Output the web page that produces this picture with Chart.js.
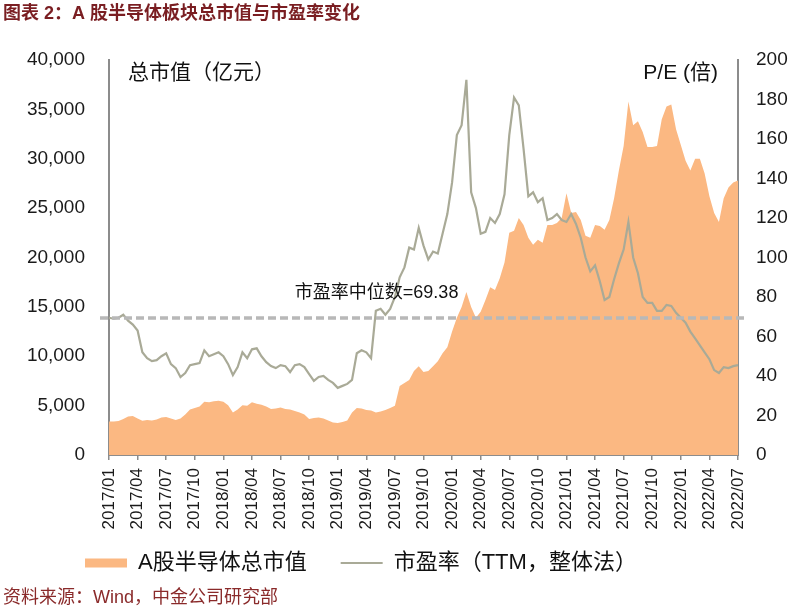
<!DOCTYPE html>
<html>
<head>
<meta charset="utf-8">
<script src="https://cdn.jsdelivr.net/npm/chart.js@4.4.0/dist/chart.umd.min.js"></script>
<style>
  html, body { margin: 0; padding: 0; background: #fff; }
  #wrap { width: 800px; height: 610px; }
</style>
</head>
<body>
<div id="wrap"><canvas id="chart" width="800" height="610"></canvas></div>
<script>
// 3-monthly axis labels
const tickLabels = ['2017/01','2017/04','2017/07','2017/10','2018/01','2018/04','2018/07','2018/10',
  '2019/01','2019/04','2019/07','2019/10','2020/01','2020/04','2020/07','2020/10',
  '2021/01','2021/04','2021/07','2021/10','2022/01','2022/04','2022/07'];

// A股半导体总市值 (亿元), twice a month from 2017/01 to 2022/07
const marketCap = [3400,3400,3450,3650,3900,3950,3700,3480,3550,3500,
  3600,3800,3850,3700,3550,3700,4100,4600,4750,4900,
  5400,5350,5450,5500,5400,5050,4300,4600,5050,5000,
  5350,5200,5100,4900,4650,4700,4800,4650,4600,4450,
  4300,4100,3650,3750,3800,3700,3500,3300,3250,3350,
  3500,4300,4750,4700,4550,4500,4300,4400,4550,4750,
  5000,7000,7300,7600,8500,9000,8400,8500,9000,9500,
  10300,10900,12500,13900,15000,16500,15000,13900,14500,15700,
  17000,16700,17900,19500,22500,22700,24000,23300,22000,21300,
  21800,21500,23300,23300,23500,24000,26500,24500,24600,23800,
  22200,22000,23300,23200,22800,23800,26000,28800,31300,35800,
  33400,33800,32700,31200,31200,31300,34000,35300,35500,33000,
  31400,29800,28800,30000,30000,28500,26200,24500,23600,26000,
  27100,27600,27800];

// 市盈率 (TTM, 整体法)
const peRatio = [69.5,69,69.5,71,68,66,63,52,49,47.5,
  48,50,51.5,46,44,39.5,41.5,45.5,46,46.5,
  53,50,51,52,50,46,40.5,44.5,52,49,
  53.5,54,50,47,45,44,45.5,45,42,45.5,
  46,44.5,41,37.5,39.5,40,38,36.5,34,35,
  36,38,51.5,53,52,49,73,74,71,74,
  80,90,95,105,104,115,106,99,103,102,
  112,122,138,162,167,190,133,125,112,113,
  120,117.5,122,132,162,181,177,155,131,133,
  128,130,119,120,122,119,118,122,117,110,
  100,93,96,88,78.5,80,89,97,104,118,
  100,92,80,77,77,73,73,76,75.5,72,
  69.5,67,62.5,59,55.5,52,48.5,43,41.5,44.5,
  44,45,45.5];

const peMedian = 69.38;

// half-month category labels
const dates = [];
for (let y = 2017; y <= 2022; y++) {
  for (let m = 1; m <= 12; m++) {
    const mm = String(m).padStart(2, '0');
    dates.push(y + '/' + mm + '/01');
    if (y === 2022 && m === 7) break;
    dates.push(y + '/' + mm + '/16');
  }
}

const FONT = "'Liberation Sans', Arial, 'Noto Sans CJK SC', sans-serif";
const CJK = "'Liberation Sans', 'Noto Sans CJK SC', sans-serif";
const axisGray = '#8c8c8c';
const legendPad = 34;

const overlay = {
  id: 'overlay',
  afterLayout(chart) {
    // legend sits under the axis labels, starting near the left axis
    const lg = chart.legend;
    const w = lg.right - lg.left;
    const h = lg.bottom - lg.top;
    lg.left = 85 - legendPad;
    lg.right = lg.left + w;
    lg.top = 552 - legendPad;
    lg.bottom = lg.top + h;
  },
  afterDatasetsDraw(chart) {
    const {ctx, chartArea, scales} = chart;
    const yMed = scales.y1.getPixelForValue(peMedian);
    ctx.save();
    ctx.strokeStyle = '#b8b8b8';
    ctx.lineWidth = 3.5;
    ctx.setLineDash([8, 4]);
    ctx.beginPath();
    ctx.moveTo(chartArea.left - 9, yMed);
    ctx.lineTo(chartArea.right + 10, yMed);
    ctx.stroke();
    ctx.setLineDash([]);
    ctx.fillStyle = '#111';
    ctx.font = '18px ' + CJK;
    ctx.textBaseline = 'middle';
    ctx.textAlign = 'left';
    ctx.fillText('市盈率中位数=' + peMedian, scales.x.getPixelForValue(39), yMed - 25);
    ctx.restore();
  },
  afterDraw(chart) {
    const {ctx, chartArea} = chart;
    ctx.save();
    ctx.textBaseline = 'middle';
    ctx.fillStyle = '#111';
    ctx.font = '21px ' + CJK;
    ctx.textAlign = 'left';
    ctx.fillText('总市值（亿元）', chartArea.left + 19, chartArea.top + 13);
    ctx.textAlign = 'right';
    ctx.fillText('P/E (倍)', chartArea.right - 20, chartArea.top + 13);
    ctx.textAlign = 'left';
    ctx.fillStyle = '#7a1e22';
    ctx.font = 'bold 18px ' + CJK;
    ctx.fillText('图表 2：A 股半导体板块总市值与市盈率变化', 3, 14);
    ctx.fillStyle = '#8a2a2a';
    ctx.font = '18px ' + CJK;
    ctx.fillText('资料来源：Wind，中金公司研究部', 3, 598);
    ctx.restore();
  }
};

new Chart(document.getElementById('chart'), {
  type: 'line',
  data: {
    labels: dates,
    datasets: [{
      label: 'A股半导体总市值',
      data: marketCap,
      yAxisID: 'y',
      backgroundColor: '#fbb882',
      borderWidth: 0,
      fill: 'origin',
      pointRadius: 0,
      pointStyle: 'rect',
      tension: 0,
      order: 1
    }, {
      label: '市盈率（TTM，整体法）',
      data: peRatio,
      yAxisID: 'y1',
      borderColor: '#a9aa97',
      backgroundColor: '#a9aa97',
      borderWidth: 2.2,
      fill: false,
      pointRadius: 0,
      pointStyle: 'line',
      tension: 0,
      order: 0
    }]
  },
  options: {
    responsive: false,
    animation: false,
    devicePixelRatio: 1,
    layout: { padding: { top: 60, left: 10, right: 12, bottom: 9 } },
    scales: {
      x: {
        grid: { display: true, drawOnChartArea: false, drawTicks: true, tickLength: 5, color: axisGray, lineWidth: 1.5 },
        border: { display: true, color: axisGray, width: 2 },
        ticks: {
          autoSkip: false,
          minRotation: 90,
          maxRotation: 90,
          padding: 8,
          color: '#1a1a1a',
          font: { family: FONT, size: 17 },
          callback: function (value) {
            const lab = this.getLabelForValue(value);
            const ym = lab.slice(0, 7);
            return lab.endsWith('/01') && tickLabels.includes(ym) ? ym : null;
          }
        },
        afterFit: (s) => { s.height = 80; }
      },
      y: {
        position: 'left',
        min: 0,
        max: 40000,
        grid: { display: false },
        border: { display: true, color: axisGray, width: 2 },
        ticks: {
          stepSize: 5000,
          padding: 16,
          color: '#1a1a1a',
          font: { family: FONT, size: 19 },
          callback: (v) => v.toLocaleString('en-US')
        },
        afterFit: (s) => { s.width = 99; }
      },
      y1: {
        position: 'right',
        min: 0,
        max: 200,
        grid: { display: false },
        border: { display: true, color: axisGray, width: 2 },
        ticks: {
          stepSize: 20,
          padding: 10,
          color: '#1a1a1a',
          font: { family: FONT, size: 19 }
        },
        afterFit: (s) => { s.width = 50; }
      }
    },
    plugins: {
      legend: {
        position: 'bottom',
        align: 'start',
        labels: {
          usePointStyle: true,
          pointStyleWidth: 42,
          boxHeight: 9,
          padding: legendPad,
          color: '#111',
          font: { family: CJK, size: 22 },
          sort: (a, b) => a.datasetIndex - b.datasetIndex
        }
      },
      title: { display: false },
      tooltip: { enabled: false }
    }
  },
  plugins: [overlay]
});
</script>
</body>
</html>
